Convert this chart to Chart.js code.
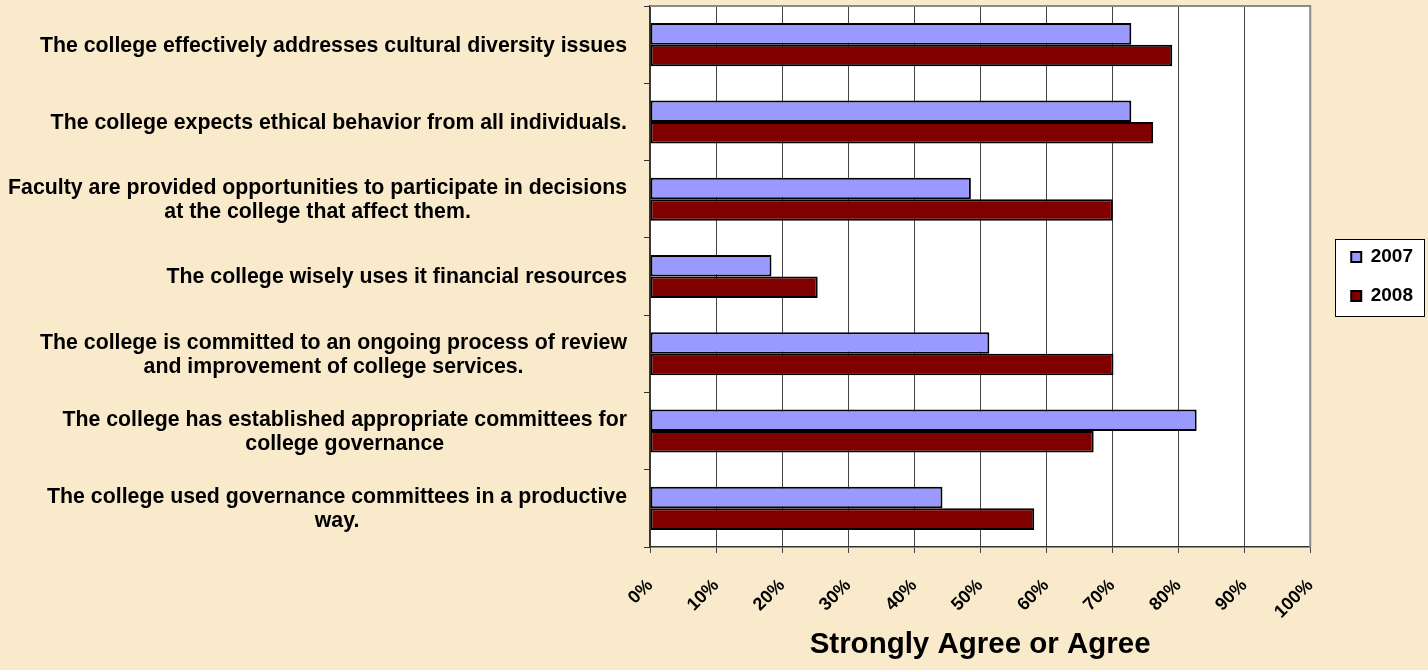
<!DOCTYPE html>
<html>
<head>
<meta charset="utf-8">
<script src="https://cdn.jsdelivr.net/npm/chart.js@4/dist/chart.umd.min.js"></script>
<style>
  html, body { margin: 0; padding: 0; background: #F8EACB; }
  #wrap { width: 1428px; height: 670px; }
</style>
</head>
<body>
<div id="wrap"><canvas id="c" width="1428" height="670"></canvas></div>
<script>
const categories = [
  ["The college effectively addresses cultural diversity issues"],
  ["The college expects ethical behavior from all individuals."],
  ["Faculty are provided opportunities to participate in decisions", "at the college that affect them."],
  ["The college wisely uses it financial resources"],
  ["The college is committed to an ongoing process of review", "and improvement of college services."],
  ["The college has established appropriate committees for", "college governance"],
  ["The college used governance committees in a productive", "way."]
];
const seriesNames = ["2007", "2008"];
const values2007 = [72.9, 72.9, 48.6, 18.4, 51.4, 82.8, 44.3];
const values2008 = [79.1, 76.2, 70.1, 25.4, 70.2, 67.2, 58.2];
const xTickValues = [0, 10, 20, 30, 40, 50, 60, 70, 80, 90, 100];
const xTitle = "Strongly Agree or Agree";

const FONT = '"Liberation Sans", Arial, Helvetica, sans-serif';

const decorPlugin = {
  id: 'decor',
  afterLayout(chart) {
    const lg = chart.legend, a = chart.chartArea;
    if (lg) {
      lg.left += 21; lg.right += 21;
      lg.top = a.top; lg.bottom = a.bottom; lg.height = a.bottom - a.top;
    }
  },
  beforeDraw(chart) {
    const ctx = chart.ctx, a = chart.chartArea;
    ctx.save();
    ctx.fillStyle = '#F8EACB';
    ctx.fillRect(0, 0, chart.width, chart.height);
    ctx.fillStyle = '#FFFFFF';
    ctx.fillRect(a.left, a.top, a.right - a.left, a.bottom - a.top);
    const hb = chart.legend && chart.legend.legendHitBoxes;
    if (hb && hb.length) {
      let l = Infinity, t = Infinity, r = -Infinity, b = -Infinity;
      hb.forEach(h => { l = Math.min(l, h.left); t = Math.min(t, h.top); r = Math.max(r, h.left + h.width); b = Math.max(b, h.top + h.height); });
      const x0 = Math.round(l - 16) + 0.5, y0 = Math.round(t - 9) + 0.5;
      const x1 = Math.round(r + 11) + 0.5, y1 = Math.round(b + 10) + 0.5;
      ctx.fillStyle = '#FFFFFF';
      ctx.fillRect(x0, y0, x1 - x0, y1 - y0);
      ctx.strokeStyle = '#000000';
      ctx.lineWidth = 1;
      ctx.strokeRect(x0, y0, x1 - x0, y1 - y0);
    }
    ctx.restore();
  },
  afterDraw(chart) {
    const ctx = chart.ctx, a = chart.chartArea;
    const ys = chart.scales.y;
    ctx.save();
    ctx.strokeStyle = '#8a8a8a';
    ctx.lineWidth = 2;
    ctx.beginPath();
    ctx.moveTo(a.left, a.top);
    ctx.lineTo(a.right, a.top);
    ctx.lineTo(a.right, a.bottom);
    ctx.stroke();
    ctx.font = 'bold 21.3px ' + FONT;
    ctx.fillStyle = '#000000';
    ctx.textBaseline = 'middle';
    ctx.textAlign = 'center';
    const lh = 24;
    const rightX = a.left - 23;
    categories.forEach((lines, i) => {
      const cy = ys.getPixelForValue(i);
      const w = Math.max(...lines.map(s => ctx.measureText(s).width));
      const cx = rightX - w / 2;
      const y0 = cy - (lines.length - 1) * lh / 2 + 1;
      lines.forEach((s, k) => ctx.fillText(s, cx, y0 + k * lh));
    });
    ctx.restore();
  }
};

new Chart(document.getElementById('c'), {
  type: 'bar',
  data: {
    labels: categories,
    datasets: [
      { label: seriesNames[0], data: values2007, backgroundColor: '#9999FF', borderColor: '#000000', borderWidth: 2, borderSkipped: false },
      { label: seriesNames[1], data: values2008, backgroundColor: '#800000', borderColor: '#000000', borderWidth: 2, borderSkipped: false }
    ]
  },
  options: {
    indexAxis: 'y',
    responsive: false,
    animation: false,
    devicePixelRatio: 1,
    categoryPercentage: 0.557,
    barPercentage: 1.0,
    layout: { padding: { top: 6, right: 26, bottom: 0, left: 0 } },
    plugins: {
      legend: {
        position: 'right',
        align: 'center',
        labels: {
          boxWidth: 10, boxHeight: 10, padding: 20, color: '#000000',
          font: { family: FONT, size: 19, weight: 'bold' }
        }
      },
      tooltip: { enabled: false },
      title: { display: false }
    },
    scales: {
      x: {
        type: 'linear',
        min: 0, max: 100,
        afterBuildTicks(scale) { scale.ticks = xTickValues.map(v => ({ value: v })); },
        afterFit(scale) { scale.height = 123; },
        grid: { color: '#444444', lineWidth: 1, tickLength: 6, drawTicks: true },
        border: { color: '#333333', width: 1.5 },
        ticks: {
          minRotation: 45, maxRotation: 45, padding: 22, color: '#000000',
          font: { family: FONT, size: 18, weight: 'bold' },
          callback: v => v + '%'
        },
        title: {
          display: true, text: xTitle, color: '#000000',
          font: { family: FONT, size: 29.5, weight: 'bold' },
          padding: { top: 0, bottom: 7 }
        }
      },
      y: {
        type: 'category',
        afterFit(scale) { scale.width = 650; },
        grid: { offset: true, drawOnChartArea: false, drawTicks: true, tickLength: 6, color: '#333333' },
        border: { color: '#333333', width: 1.5 },
        ticks: { display: false }
      }
    }
  },
  plugins: [decorPlugin]
});
</script>
</body>
</html>
